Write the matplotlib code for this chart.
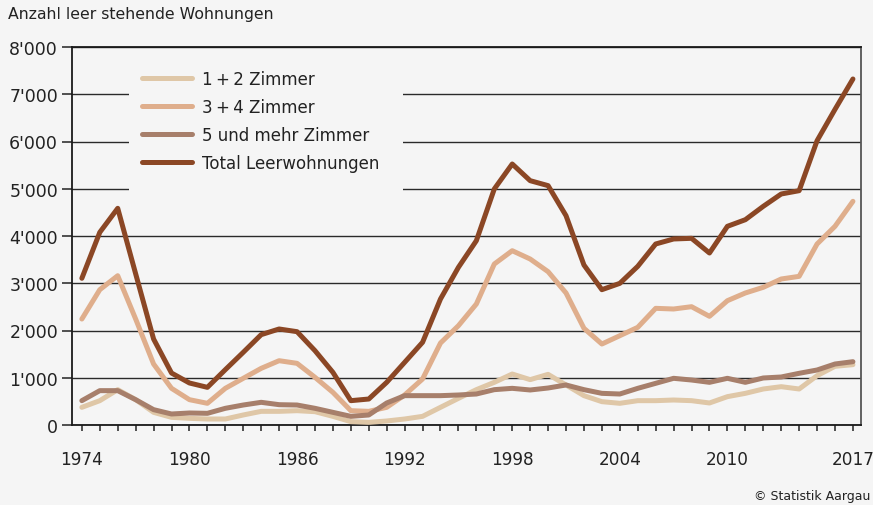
"""Leer stehende Wohnungen im Kanton Aargau, 1974-2017."""

import matplotlib

matplotlib.use("Agg")
import matplotlib.pyplot as plt
from matplotlib.patches import Rectangle
from matplotlib.ticker import FuncFormatter, MultipleLocator

years = list(range(1974, 2018))

zimmer_1_2 = [
    374, 515, 748, 536, 268, 162, 141, 127, 127, 212,
    289, 289, 303, 282, 183, 71, 56, 85, 127, 183,
    374, 564, 748, 903, 1079, 960, 1072, 847, 621, 494,
    459, 515, 515, 529, 515, 466, 600, 670, 762, 811,
    762, 1044, 1242, 1277,
]
zimmer_3_4 = [
    2243, 2864, 3160, 2243, 1291, 776, 536, 459, 776, 988,
    1199, 1361, 1305, 1009, 691, 303, 289, 374, 635, 974,
    1735, 2102, 2561, 3407, 3689, 3513, 3245, 2794, 2046, 1714,
    1890, 2067, 2469, 2455, 2504, 2300, 2631, 2794, 2914, 3090,
    3146, 3831, 4205, 4734,
]
zimmer_5_plus = [
    515, 727, 727, 536, 325, 233, 254, 247, 353, 423,
    480, 430, 423, 353, 268, 183, 212, 466, 621, 621,
    621, 635, 656, 748, 776, 741, 783, 847, 748, 670,
    656, 776, 882, 988, 952, 903, 988, 903, 995, 1016,
    1094, 1164, 1291, 1340,
]
total = [
    3105, 4078, 4586, 3200, 1820, 1100, 889, 797, 1171, 1538,
    1912, 2032, 1975, 1573, 1114, 515, 550, 903, 1326, 1750,
    2667, 3337, 3901, 4995, 5524, 5171, 5066, 4430, 3386, 2864,
    2998, 3358, 3831, 3937, 3951, 3640, 4205, 4345, 4628, 4889,
    4959, 6017, 6680, 7323,
]

series = [
    ("1\u2009+\u20092 Zimmer", zimmer_1_2, "#dfc7a7"),
    ("3\u2009+\u20094 Zimmer", zimmer_3_4, "#dfae8c"),
    ("5 und mehr Zimmer", zimmer_5_plus, "#a77f6b"),
    ("Total Leerwohnungen", total, "#8b4725"),
]
x_labels = [1974, 1980, 1986, 1992, 1998, 2004, 2010, 2017]

BG = "#f5f5f5"
TEXT = "#222222"

plt.rcParams["font.family"] = ["DejaVu Sans"]

fig = plt.figure(figsize=(8.73, 5.06), dpi=100, facecolor=BG)
ax = fig.add_axes([72 / 873, 1 - 426 / 506, 789 / 873, 378 / 506])
ax.set_facecolor(BG)

for label, values, color in series:
    ax.plot(years, values, color=color, lw=3.6, label=label,
            solid_capstyle="round", solid_joinstyle="round", zorder=3)

ax.set_xlim(1973.45, 2017.45)
ax.set_ylim(0, 8000)

ax.yaxis.set_major_locator(MultipleLocator(1000))
ax.yaxis.set_major_formatter(FuncFormatter(lambda v, _: f"{v:,.0f}".replace(",", "'")))
ax.set_xticks(x_labels)
ax.xaxis.set_minor_locator(MultipleLocator(1))

ax.grid(True, axis="y", color="#2a2a2a", lw=1.0, zorder=1)
ax.tick_params(axis="y", length=7, width=1.1, pad=3, labelsize=12.5,
               colors=TEXT, direction="out")
ax.tick_params(axis="x", which="both", length=4.3, width=1.1, pad=14,
               labelsize=12.2, colors=TEXT, direction="out")

for side in ["left", "bottom", "top"]:
    ax.spines[side].set_color("#1a1a1a")
    ax.spines[side].set_linewidth(1.3)
ax.spines["right"].set_color("#555555")
ax.spines["right"].set_linewidth(1.3)

# legend sits on a patch that hides the gridlines behind it
ax.add_patch(Rectangle((0.0722, 0.611), 0.3473, 0.357, transform=ax.transAxes,
                       facecolor=BG, edgecolor="none", zorder=2))
leg = ax.legend(loc="upper left", bbox_to_anchor=(0.0887, 0.94), frameon=False,
                fontsize=12, handlelength=3.0, handletextpad=0.6,
                labelspacing=0.6, borderpad=0, borderaxespad=0)
for line in leg.get_lines():
    line.set_solid_capstyle("round")
for t in leg.get_texts():
    t.set_color(TEXT)

fig.text(8 / 873, 1 - 15 / 506, "Anzahl leer stehende Wohnungen", fontsize=11.3,
         color=TEXT, va="center", ha="left")
fig.text(870 / 873, 1 - 497 / 506, "© Statistik Aargau", fontsize=9,
         color=TEXT, va="center", ha="right")

fig.savefig("out.png", dpi=100, facecolor=BG)
plt.close(fig)
